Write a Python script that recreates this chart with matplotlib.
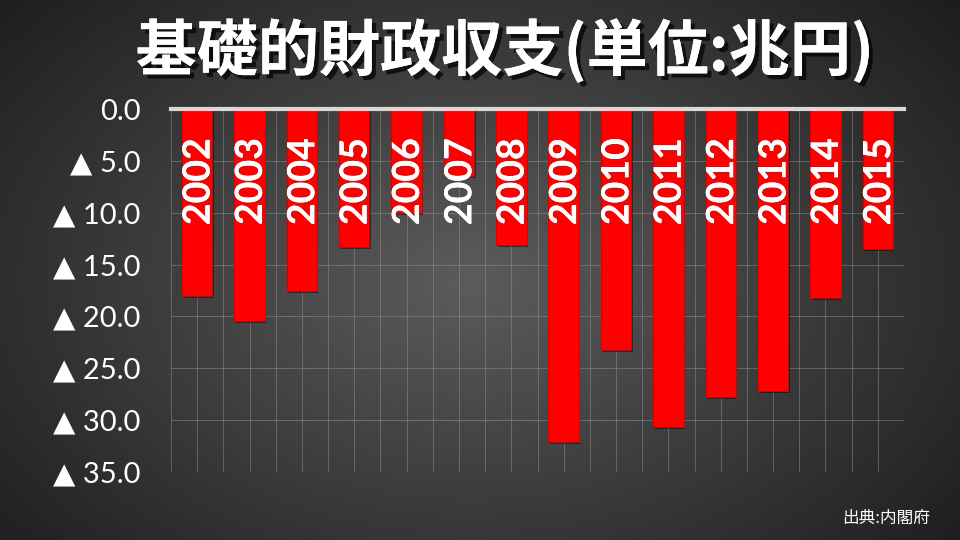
import matplotlib
matplotlib.use('Agg')
import matplotlib.pyplot as plt
import matplotlib.patheffects as pe
from matplotlib.ticker import FixedLocator, FuncFormatter
import numpy as np

# DATA
years = ['2002', '2003', '2004', '2005', '2006', '2007', '2008',
         '2009', '2010', '2011', '2012', '2013', '2014', '2015']
balance = [-18.0, -20.4, -17.5, -13.3, -10.0, -6.5, -13.1,
           -32.1, -23.2, -30.7, -27.8, -27.2, -18.2, -13.5]  # 兆円
y_ticks = [0, -5, -10, -15, -20, -25, -30, -35]
title = '基礎的財政収支(単位:兆円)'
source = '出典:内閣府'

fig = plt.figure(figsize=(9.6, 5.4), dpi=100)

# radial grey background
bg = fig.add_axes([0, 0, 1, 1], zorder=0)
yy, xx = np.mgrid[0:540, 0:960]
r = np.sqrt(((xx - 470) / 620.0) ** 2 + ((yy - 280) / 420.0) ** 2)
shade = np.clip(0.36 - 0.24 * r, 0.11, 0.36)
bg.imshow(np.dstack([shade, shade, shade]), aspect='auto', extent=[0, 1, 0, 1])
bg.axis('off')

ax = fig.add_axes([171 / 960, 1 - 472 / 540, 733 / 960, 363 / 540], zorder=1)
ax.patch.set_alpha(0)

x = np.arange(len(years))
bars = ax.bar(x, balance, width=0.58, color='#ff0000', zorder=3,
              edgecolor='#d00000', linewidth=0.6)
for b in bars:
    b.set_path_effects([pe.withSimplePatchShadow(offset=(1, -1.5), shadow_rgbFace='black', alpha=0.45),
                        pe.Normal()])

for xi, yr in zip(x, years):
    ax.annotate(yr, (xi, 0), xytext=(1, -21), textcoords='offset points',
                rotation=90, ha='center', va='top', color='white',
                fontsize=27, fontweight='bold', family=['Lato', 'DejaVu Sans'], zorder=5,
                path_effects=[pe.withSimplePatchShadow(offset=(1, -1), alpha=0.4), pe.Normal()])

ax.set_xlim(-0.5, len(years) - 0.5)
ax.set_ylim(-35, 0)
ax.axhline(0, color='#d9d9d9', lw=3, zorder=4, clip_on=False)

ax.xaxis.set_major_locator(FixedLocator(np.arange(-0.5, len(years), 0.5)))
ax.set_xticklabels([])
ax.yaxis.set_major_locator(FixedLocator(y_ticks))
ax.yaxis.set_major_formatter(FuncFormatter(lambda v, p: '0.0' if v == 0 else '▲ %.1f' % -v))
ax.tick_params(length=0, pad=22, labelcolor='white', labelsize=21)
for lab in ax.get_yticklabels():
    lab.set_family(['Lato', 'DejaVu Sans'])
ax.grid(True, color='#9a9a9a', lw=0.7, alpha=0.45, zorder=1)
for s in ax.spines.values():
    s.set_visible(False)

fig.text(0.526, 0.905, title, ha='center', va='center', color='white', fontsize=44,
         fontweight='bold', family=['Noto Sans CJK JP', 'DejaVu Sans'],
         path_effects=[pe.withSimplePatchShadow(offset=(3, -3), shadow_rgbFace='black', alpha=0.7),
                       pe.Normal()])
fig.text(930 / 960, 1 - 518 / 540, source, ha='right', va='center', color='white', fontsize=12,
         family=['Noto Sans CJK JP', 'DejaVu Sans'])

fig.savefig('out.png', dpi=100)
